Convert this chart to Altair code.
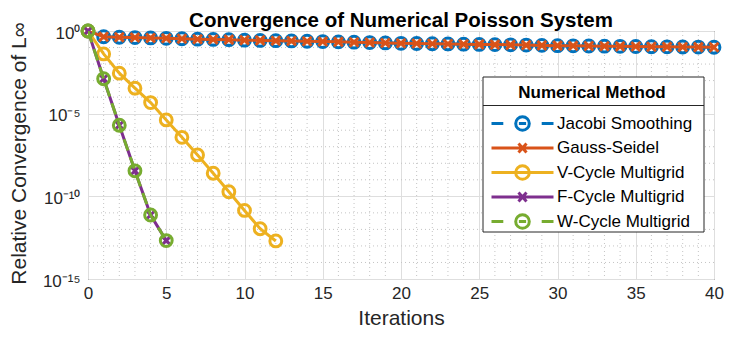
import altair as alt
import pandas as pd

# ---------------- data ----------------
methods = ["Jacobi Smoothing", "Gauss-Seidel", "V-Cycle Multigrid",
           "F-Cycle Multigrid", "W-Cycle Multigrid"]
colors = ["#0072BD", "#D95319", "#EDB120", "#7E2F8E", "#77AC30"]
chart_title = "Convergence of Numerical Poisson System"

jacobi_it = list(range(0, 41))
jacobi_val = [1.0, 0.45, 0.42, 0.40, 0.38, 0.36, 0.34, 0.32, 0.31, 0.30,
              0.28, 0.27, 0.26, 0.25, 0.24, 0.23, 0.22, 0.21, 0.20, 0.19,
              0.18, 0.175, 0.17, 0.165, 0.16, 0.155, 0.15, 0.145, 0.14, 0.135,
              0.13, 0.127, 0.124, 0.121, 0.118, 0.115, 0.112, 0.11, 0.108, 0.106,
              0.104]
gs_it = list(range(0, 41))
gs_val = [1.0, 0.45, 0.42, 0.40, 0.38, 0.36, 0.34, 0.32, 0.31, 0.30,
          0.28, 0.27, 0.26, 0.25, 0.24, 0.23, 0.22, 0.21, 0.20, 0.19,
          0.18, 0.175, 0.17, 0.165, 0.16, 0.155, 0.15, 0.145, 0.14, 0.135,
          0.13, 0.127, 0.124, 0.121, 0.118, 0.115, 0.112, 0.11, 0.108, 0.106,
          0.104]
v_it = list(range(0, 13))
v_val = [1.0, 4.1e-2, 2.8e-3, 3.5e-4, 4.7e-5, 4.2e-6, 3.7e-7, 3.2e-8,
         2.5e-9, 1.9e-10, 1.4e-11, 1.1e-12, 2.0e-13]
f_it = list(range(0, 6))
f_val = [1.0, 1.3e-3, 2.0e-6, 3.5e-9, 7.4e-12, 2.1e-13]
w_it = list(range(0, 6))
w_val = [1.0, 1.3e-3, 2.0e-6, 3.5e-9, 7.4e-12, 2.1e-13]

x_major = [0, 5, 10, 15, 20, 25, 30, 35, 40]
x_minor = [i for i in range(41) if i % 5 != 0]
y_major = [1.0, 1e-5, 1e-10, 1e-15]
y_minor = [1e-1, 1e-2, 1e-3, 1e-4, 1e-6, 1e-7, 1e-8, 1e-9,
           1e-11, 1e-12, 1e-13, 1e-14]

# ---------------- styling ----------------
FONT = "Liberation Sans"
W, H = 626, 248
CIRCLE_SIZE = 140
X_PATH = "M-1,-1L1,1M-1,1L1,-1"
X_SIZE = 80

LEG_X, LEG_Y, LEG_W, LEG_H, LEG_SEP = 395, 46, 221, 155, 28.5

legend_paths = [
    "M-3.875,0H-2.4M2.4,0H3.875M-0.85,0A0.85,0.85 0 1 1 0.85,0A0.85,0.85 0 1 1 -0.85,0M-0.45,0H0.45",
    "M-3.875,0H3.875M-0.5,-0.55L0.5,0.55M-0.5,0.55L0.5,-0.55",
    "M-3.875,0H3.875M-0.85,0A0.85,0.85 0 1 1 0.85,0A0.85,0.85 0 1 1 -0.85,0",
    "M-3.875,0H3.875M-0.5,-0.55L0.5,0.55M-0.5,0.55L0.5,-0.55",
    "M-3.875,0H-2.4M2.4,0H3.875M-0.85,0A0.85,0.85 0 1 1 0.85,0A0.85,0.85 0 1 1 -0.85,0M-0.45,0H0.45",
]

xscale = alt.Scale(domain=[0, 40], nice=False, zero=False)
yscale = alt.Scale(type="log", domain=[1e-15, 1], nice=False)

x_axis = alt.Axis(orient="bottom", values=x_major, grid=True, gridColor="#dedede",
                  gridWidth=1, domain=False, ticks=False, tickSize=0,
                  labelPadding=6, labelFont=FONT, labelFontSize=17,
                  labelColor="#262626", labelFlush=False, labelOverlap=False,
                  format="d", title="Iterations", titleFont=FONT,
                  titleFontSize=21, titleFontWeight="normal", titleColor="#262626",
                  titleX=W / 2, titleY=45, titleBaseline="alphabetic")
y_axis = alt.Axis(orient="left", values=y_major, grid=True, gridColor="#dedede",
                  gridWidth=1, domain=False, ticks=False, tickSize=0,
                  labelPadding=8, labelFont=FONT, labelFontSize=17, labelOffset=2,
                  labelColor="#262626", labelFlush=False, labelOverlap=False,
                  labelExpr="datum.value >= 0.5 ? '10⁰' : datum.value >= 1e-6 ? '10⁻⁵' : datum.value >= 1e-11 ? '10⁻¹⁰' : '10⁻¹⁵'",
                  title="Relative Convergence of L∞", titleFont=FONT,
                  titleFontSize=21, titleFontWeight="normal", titleColor="#262626",
                  titleX=-63, titleY=122, titleBaseline="alphabetic", titleAngle=-90)

X_ENC = dict(scale=xscale, axis=x_axis)
Y_ENC = dict(scale=yscale, axis=y_axis)


def frame(it, val, name):
    return pd.DataFrame({"it": it, "val": val, "method": name})


def series(df, color, dash, marker):
    base = alt.Chart(df).encode(
        x=alt.X("it:Q", **X_ENC),
        y=alt.Y("val:Q", **Y_ENC),
    )
    line_kw = dict(color=color, strokeWidth=3, clip=True)
    if dash:
        line_kw["strokeDash"] = dash
    line = base.mark_line(**line_kw)
    if marker == "circle":
        pts = base.mark_point(shape="circle", size=CIRCLE_SIZE, color=color,
                              filled=False, strokeWidth=3, opacity=1)
    else:
        pts = base.mark_point(shape=X_PATH, size=X_SIZE, color=color,
                              filled=False, strokeWidth=3, opacity=1)
    return [line, pts]


minor_x = alt.Chart(pd.DataFrame({"it": x_minor})).mark_rule(
    color="#c4c4c4", strokeWidth=1, strokeDash=[1, 3]
).encode(x=alt.X("it:Q", **X_ENC))
minor_y = alt.Chart(pd.DataFrame({"val": y_minor})).mark_rule(
    color="#c4c4c4", strokeWidth=1, strokeDash=[1, 3]
).encode(y=alt.Y("val:Q", **Y_ENC))

layers = [minor_x, minor_y]
layers += series(frame(jacobi_it, jacobi_val, methods[0]), colors[0], [12, 7], "circle")
layers += series(frame(gs_it, gs_val, methods[1]), colors[1], None, "x")
layers += series(frame(v_it, v_val, methods[2]), colors[2], None, "circle")
layers += series(frame(f_it, f_val, methods[3]), colors[3], None, "x")
layers += series(frame(w_it, w_val, methods[4]), colors[4], [12, 7], "circle")

one = pd.DataFrame({"a": [0]})
leg_box = alt.Chart(one).mark_rect(fill="white", stroke="#262626", strokeWidth=1).encode(
    x=alt.value(LEG_X), x2=alt.value(LEG_X + LEG_W),
    y=alt.value(LEG_Y), y2=alt.value(LEG_Y + LEG_H))
leg_sep = alt.Chart(one).mark_rule(color="#262626", strokeWidth=1).encode(
    x=alt.value(LEG_X), x2=alt.value(LEG_X + LEG_W), y=alt.value(LEG_Y + LEG_SEP))

title_mark = alt.Chart(one).mark_text(
    text=chart_title, font=FONT, fontSize=20.5, fontWeight="bold", color="black",
    align="center", baseline="alphabetic"
).encode(x=alt.value(W / 2), y=alt.value(-4.3))

legend_props = dict(
    title="Numerical Method", orient="none",
    legendX=LEG_X, legendY=LEG_Y, padding=8,
    titleFont=FONT, titleFontSize=17, titleFontWeight="bold",
    titleColor="black", titleAnchor="middle", titlePadding=12,
    labelFont=FONT, labelFontSize=17, labelColor="black",
    symbolSize=256, symbolStrokeWidth=3, symbolOpacity=1,
    symbolOffset=22, labelOffset=25, rowPadding=0.5, labelLimit=400)

leg_layer = alt.Chart(pd.DataFrame({"method": methods})).mark_point(
    opacity=0, filled=False, strokeWidth=3
).encode(
    color=alt.Color("method:N", scale=alt.Scale(domain=methods, range=colors),
                    legend=alt.Legend(**legend_props)),
    shape=alt.Shape("method:N", scale=alt.Scale(domain=methods, range=legend_paths),
                    legend=alt.Legend(**legend_props)),
)

layers += [leg_box, leg_sep, title_mark, leg_layer]

chart = alt.layer(*layers).properties(
    width=W, height=H,
    background="white",
    autosize=alt.AutoSizeParams(type="none"),
    padding={"left": 80, "top": 23, "right": 10, "bottom": 49},
).configure_view(stroke="#262626", strokeWidth=1)

chart.save("out.html", embed_options={"renderer": "svg", "actions": False})
